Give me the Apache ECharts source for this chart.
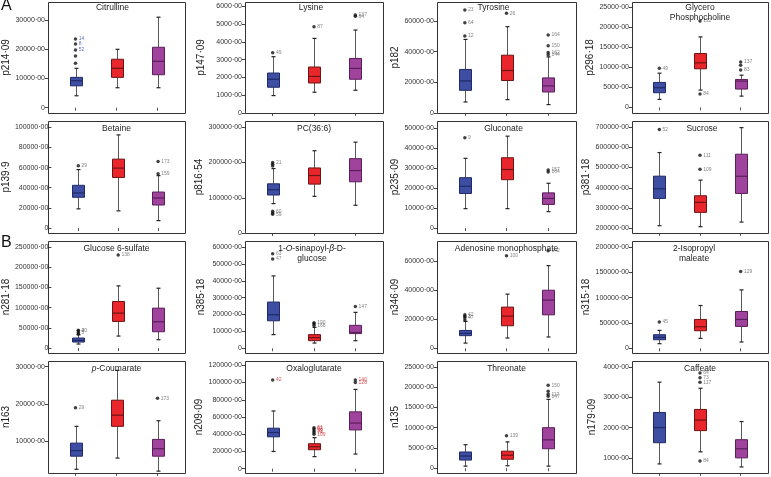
<!DOCTYPE html>
<html><head><meta charset="utf-8">
<script src="https://cdn.jsdelivr.net/npm/echarts@6/dist/echarts.min.js"></script>
<style>html,body{margin:0;padding:0;background:#fff}#c{width:771px;height:477px}</style>
</head><body><div id="c"></div>
<script>
// ---------- data ----------
const titles = ['Citrulline','Lysine','Tyrosine','Glycero\nPhosphocholine',
  'Betaine','PC(36:6)','Gluconate','Sucrose',
  'Glucose 6-sulfate','1-{i|O}-sinapoyl-{i|β}-D-\nglucose','Adenosine monophosphate','2-Isopropyl\nmaleate',
  '{i|p}-Coumarate','Oxaloglutarate','Threonate','Caffeate'];
const yNames = ['p214·09','p147·09','p182','p296·18','p139·9','p816·54','p235·09','p381·18',
  'n281·18','n385·18','n346·09','n315·18','n163','n209·09','n135','n179·09'];
const groups = ['1','2','3'];
const yRanges = [[-1800,36200],[0,6250],[0,72400],[-1400,26200],
  [-5000,106300],[0,317800],[-2500,53600],[177000,729500],
  [-12300,264800],[-2800,63600],[-3200,73700],[-9200,211800],
  [1500,31500],[-5000,125000],[-1200,26500],[500,4200]];
const yTicks = [[0,10000,20000,30000],[0,1000,2000,3000,4000,5000,6000],[0,20000,40000,60000],[0,5000,10000,15000,20000,25000],
  [0,20000,40000,60000,80000,100000],[0,100000,200000,300000],[0,10000,20000,30000,40000,50000],[200000,300000,400000,500000,600000,700000],
  [0,50000,100000,150000,200000,250000],[0,10000,20000,30000,40000,50000,60000],[0,20000,40000,60000],[0,50000,100000,150000,200000],
  [10000,20000,30000],[0,20000,40000,60000,80000,100000,120000],[0,5000,10000,15000,20000,25000],[1000,2000,3000,4000]];

// [min, Q1, median, Q3, max] for groups 1 (blue), 2 (red), 3 (purple)
const citrulline = [[4100,7500,9250,10400,13500],[6850,10400,13500,16600,20000],[6850,11300,15900,20700,31000]];
const lysine = [[980,1450,1900,2250,3170],[1170,1690,2060,2590,4200],[1280,1900,2510,3070,4670]];
const tyrosine = [[7200,14800,20900,28400,48000],[8700,21200,27700,37700,56300],[5500,13700,17700,22900,36600]];
const glyceroPC = [[1980,3640,4880,6200,8500],[4300,9590,11070,13390,17520],[2800,4550,6530,6940,8000]];
const betaine = [[19000,30500,34800,42400,58000],[17000,50200,59500,68400,92500],[7300,22800,29800,35700,52000]];
const pc366 = [[83400,107800,122800,139600,182800],[104000,138700,163000,184600,233400],[78700,145300,177200,210900,257700]];
const gluconate = [[9700,17300,20900,25200,34900],[9700,24200,29300,35200,46000],[8200,11800,14800,17600,22400]];
const sucrose = [[213000,347500,395000,457400,573800],[208000,278700,327900,360700,437700],[231000,372000,457000,565600,696700]];
const glucose6s = [[9900,14800,18900,24700,32900],[29600,65800,86300,115100,153800],[20600,40300,65000,98700,148000]];
const sinapoyl = [[8100,16300,19900,27400,42900],[3100,4500,6300,8100,12400],[4500,8700,9400,13600,21300]];
const amp = [[3600,8700,10300,12300,18500],[7100,15500,22100,28300,37200],[7800,23000,33100,39900,56800]];
const isopropyl = [[9200,17000,21600,26900,35400],[19700,34700,42600,57000,84500],[12500,43300,57000,72700,115300]];
const coumarate = [[2500,6000,7500,9500,14000],[5500,14000,17000,21000,29000],[2000,6000,8000,10500,15500]];
const oxaloglutarate = [[20000,37000,42000,47000,67000],[14000,22000,25500,29000,36000],[17000,45000,53000,66000,92000]];
const threonate = [[500,2000,3000,4000,5800],[600,2200,3200,4200,6500],[500,4800,7000,10000,17000]];
const caffeate = [[800,1500,2000,2500,3500],[1200,1900,2250,2600,3300],[700,1000,1300,1600,2200]];

// outliers: [group index, value, sample label]
const citrullineOut = [[0,15200,''],[0,17700,''],[0,19800,'52'],[0,21800,'8'],[0,23500,'14']];
const lysineOut = [[0,3390,'49'],[1,4850,'87'],[2,5450,'64'],[2,5520,'137']];
const tyrosineOut = [[0,50200,'12'],[0,58900,'64'],[0,67200,'23'],[1,65000,'26'],[2,38000,'144'],[2,39500,'162'],[2,43800,'150'],[2,50800,'164']];
const glyceroPCOut = [[0,9700,'49'],[1,21500,'112'],[1,3300,'84'],[2,9300,'83'],[2,10500,''],[2,11300,'137']];
const betaineOut = [[0,61800,'29'],[2,54000,'159'],[2,66000,'173']];
const pc366Out = [[0,190000,''],[0,195000,''],[0,200000,'21'],[0,62000,'60'],[0,57000,''],[0,53000,'59']];
const gluconateOut = [[0,45200,'9'],[2,28000,'164'],[2,29000,'157']];
const sucroseOut = [[0,687000,'52'],[1,492000,'109'],[1,561000,'111']];
const glucose6sOut = [[0,35000,''],[0,38000,'5'],[0,42000,'40'],[0,44000,'2'],[1,230300,'138']];
const sinapoylOut = [[0,53000,'47'],[0,56000,'63'],[1,13500,'166'],[1,14500,''],[1,15200,'190'],[2,24800,'147']];
const ampOut = [[0,19500,''],[0,21000,'47'],[0,22000,'3'],[0,23000,'42'],[1,63600,'100'],[2,67000,'142']];
const isopropylOut = [[0,51800,'45'],[2,151400,'129']];
const coumarateOut = [[0,19000,'29'],[2,21500,'173']];
const oxaloglutarateOut = [[0,103000,'42'],[1,40000,'109'],[1,42000,'74'],[1,44000,'59'],[1,46000,'62'],[1,47500,'61'],[2,100000,'128'],[2,103000,'140']];
const threonateOut = [[1,8000,'139'],[2,17800,'147'],[2,18300,'117'],[2,19000,''],[2,20500,'150']];
const caffeateOut = [[1,3500,'117'],[1,3650,'73'],[1,3800,'64'],[1,900,'84']];

const boxes = [citrulline,lysine,tyrosine,glyceroPC,betaine,pc366,gluconate,sucrose,glucose6s,sinapoyl,amp,isopropyl,coumarate,oxaloglutarate,threonate,caffeate];
const outs = [citrullineOut,lysineOut,tyrosineOut,glyceroPCOut,betaineOut,pc366Out,gluconateOut,sucroseOut,glucose6sOut,sinapoylOut,ampOut,isopropylOut,coumarateOut,oxaloglutarateOut,threonateOut,caffeateOut];

// ---------- layout / style ----------
const FONT = '"Liberation Sans", Arial, Helvetica, sans-serif';
const FL = [48,245,437,632], FW = [137,138,139,136];
const FT = [2,121,241,361], FH = [111,112,112,112];
const INSET = 7;
const NAMEGAP = [30,39,37,35];
const TITLE_DX = [-4,-3,-13,0, 0,0,-3,2, 0,-2,0,-6, 0,0,0,0];
const FILL = ['#3d4ea3','#e8262b','#a0439d'];
const BORDER = ['#1f2a66','#6e1414','#5a1e5a'];
const WHISKER = '#5a5a5a';

function renderBox(params, api){
  const k = api.value(0);
  const pMin = api.coord([k, api.value(1)]);
  const pQ1 = api.coord([k, api.value(2)]);
  const pMed = api.coord([k, api.value(3)]);
  const pQ3 = api.coord([k, api.value(4)]);
  const pMax = api.coord([k, api.value(5)]);
  const cx = Math.round(pMin[0]) + 0.5;
  const hw = 6, cw = 2;
  const s = {stroke:WHISKER, lineWidth:1};
  return {type:'group', children:[
    {type:'line', shape:{x1:cx,y1:pMin[1],x2:cx,y2:pQ1[1]}, style:s},
    {type:'line', shape:{x1:cx,y1:pQ3[1],x2:cx,y2:pMax[1]}, style:s},
    {type:'line', shape:{x1:cx-cw,y1:pMin[1],x2:cx+cw,y2:pMin[1]}, style:{stroke:'#222', lineWidth:1.2}},
    {type:'line', shape:{x1:cx-cw,y1:pMax[1],x2:cx+cw,y2:pMax[1]}, style:{stroke:'#222', lineWidth:1.2}},
    {type:'rect', shape:{x:cx-hw, y:pQ3[1], width:2*hw, height:pQ1[1]-pQ3[1]},
      style:{fill:FILL[k], stroke:BORDER[k], lineWidth:1}},
    {type:'line', shape:{x1:cx-hw,y1:pMed[1],x2:cx+hw,y2:pMed[1]}, style:{stroke:BORDER[k], lineWidth:1.2}}
  ]};
}

const grid=[], xAxis=[], yAxis=[], series=[], title=[], graphic=[];
for (let i=0;i<16;i++){
  const r=Math.floor(i/4), c=i%4;
  grid.push({left:FL[c]+INSET, top:FT[r], width:FW[c]-2*INSET, height:FH[r], show:false});
  xAxis.push({gridIndex:i, type:'category', data:groups, boundaryGap:true,
    axisLine:{show:false}, axisLabel:{show:false}, splitLine:{show:false},
    axisTick:{show:true, alignWithLabel:true, length:3, lineStyle:{color:'#555'}}});
  yAxis.push({gridIndex:i, type:'value', min:yRanges[i][0], max:yRanges[i][1], offset:INSET,
    axisLine:{show:false}, splitLine:{show:false},
    axisTick:{show:true, length:3, customValues:yTicks[i], lineStyle:{color:'#444'}},
    axisLabel:{customValues:yTicks[i], fontSize:7, margin:3, color:'#333', fontFamily:FONT,
      formatter:v=> v===0 ? '0' : v+'·00'},
    name:yNames[i], nameLocation:'middle', nameGap:NAMEGAP[c],
    nameTextStyle:{fontSize:10, color:'#222', fontFamily:FONT}});
  series.push({type:'custom', xAxisIndex:i, yAxisIndex:i, silent:true,
    renderItem:renderBox, encode:{x:0, y:[1,2,3,4,5]},
    data: boxes[i].map((d,k)=>[k].concat(d))});
  const lblColor = i===0 ? '#3d4ea3' : (i===13 ? '#d0262b' : '#666');
  series.push({type:'scatter', xAxisIndex:i, yAxisIndex:i, symbolSize:3.5, silent:true,
    itemStyle:{color:'#111'}, z:3,
    data: outs[i].map(o=>({value:[o[0],o[1]], name:o[2]})),
    label:{show:true, position:'right', distance:1.5, fontSize:5, color:lblColor, fontFamily:FONT,
      formatter:p=>p.name}});
  title.push({text:titles[i], left:FL[c]+FW[c]/2+TITLE_DX[i], top:FT[r]+(r===0?1:3), textAlign:'center', padding:0,
    textStyle:{fontSize:8.5, fontWeight:'normal', color:'#222', fontFamily:FONT, lineHeight:9.5,
      rich:{i:{fontStyle:'italic', fontSize:8.5, fontFamily:FONT, color:'#222'}}}});
  graphic.push({type:'rect', silent:true, shape:{x:FL[c]+0.5, y:FT[r]+0.5, width:FW[c], height:FH[r]},
    style:{fill:null, stroke:'#333', lineWidth:1}, z:10});
}
graphic.push({type:'text', left:1, top:-2, style:{text:'A', fill:'#111', font:'16px '+FONT}});
graphic.push({type:'text', left:1, top:235, style:{text:'B', fill:'#111', font:'16px '+FONT}});

const chart = echarts.init(document.getElementById('c'), null, {renderer:'canvas'});
chart.setOption({animation:false, backgroundColor:'#fff', title, grid, xAxis, yAxis, series, graphic});
</script></body></html>
